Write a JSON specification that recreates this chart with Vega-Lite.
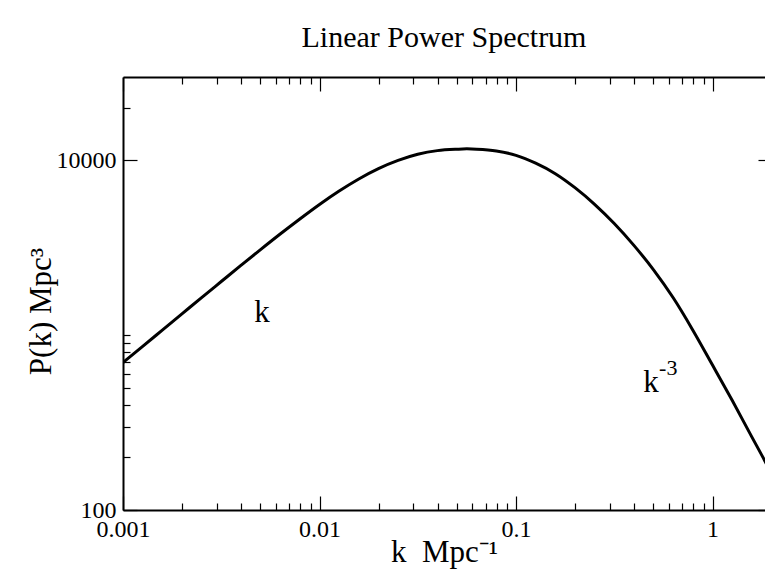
{
  "$schema": "https://vega.github.io/schema/vega-lite/v6.json",
  "width": 642,
  "height": 433,
  "autosize": {"type": "none"},
  "padding": {"left": 123, "top": 77, "right": 0, "bottom": 76},
  "background": "white",
  "config": {
    "view": {"stroke": null},
    "font": "Liberation Serif",
    "axis": {
      "grid": false,
      "domainColor": "black",
      "domainWidth": 2,
      "tickColor": "black",
      "tickWidth": 1.2,
      "labelFont": "Liberation Serif",
      "labelFontSize": 24,
      "labelColor": "black",
      "titleFont": "Liberation Serif",
      "titleFontWeight": "normal",
      "titleColor": "black",
      "minExtent": 0
    },
    "title": {"font": "Liberation Serif", "fontWeight": "normal", "color": "black"}
  },
  "title": {
    "text": "Linear Power Spectrum",
    "fontSize": 30,
    "anchor": "middle",
    "frame": "group",
    "baseline": "alphabetic",
    "offset": -1
  },
  "resolve": {
    "scale": {"x": "shared", "y": "shared"},
    "axis": {"x": "independent", "y": "independent"}
  },
  "layer": [
    {
      "data": {
        "values": [
          {"k": 0.001, "P": 697},
          {"k": 0.001259, "P": 863},
          {"k": 0.001585, "P": 1069},
          {"k": 0.001995, "P": 1324},
          {"k": 0.002512, "P": 1641},
          {"k": 0.003162, "P": 2028},
          {"k": 0.003981, "P": 2506},
          {"k": 0.005012, "P": 3090},
          {"k": 0.00631, "P": 3793},
          {"k": 0.007943, "P": 4624},
          {"k": 0.01, "P": 5598},
          {"k": 0.01259, "P": 6683},
          {"k": 0.01585, "P": 7834},
          {"k": 0.01995, "P": 8974},
          {"k": 0.02512, "P": 10000},
          {"k": 0.03162, "P": 10839},
          {"k": 0.03981, "P": 11376},
          {"k": 0.05012, "P": 11588},
          {"k": 0.05623, "P": 11641},
          {"k": 0.0631, "P": 11588},
          {"k": 0.07943, "P": 11324},
          {"k": 0.1, "P": 10691},
          {"k": 0.1259, "P": 9638},
          {"k": 0.1585, "P": 8395},
          {"k": 0.1995, "P": 6982},
          {"k": 0.2512, "P": 5610},
          {"k": 0.3162, "P": 4355},
          {"k": 0.3981, "P": 3266},
          {"k": 0.5012, "P": 2366},
          {"k": 0.631, "P": 1637},
          {"k": 0.7943, "P": 1069},
          {"k": 1.0, "P": 675},
          {"k": 1.259, "P": 424},
          {"k": 1.585, "P": 262},
          {"k": 1.85, "P": 190},
          {"k": 2.0, "P": 160}
        ]
      },
      "mark": {"type": "line", "color": "black", "strokeWidth": 3, "clip": true, "interpolate": "monotone"},
      "encoding": {
        "x": {
          "field": "k", "type": "quantitative",
          "scale": {"type": "log", "domain": [0.001, 1.85], "nice": false},
          "axis": {
            "orient": "bottom",
            "values": [0.001, 0.01, 0.1, 1],
            "format": "~g",
            "tickSize": -14,
            "labelPadding": 21,
            "labelBaseline": "top",
            "labelFlush": false,
            "labelOverlap": false,
            "title": "k\u00a0\u00a0Mpc\u207b\u00b9",
            "titleFontSize": 31,
            "titleBaseline": "alphabetic",
            "titleY": 51
          }
        },
        "y": {
          "field": "P", "type": "quantitative",
          "scale": {"type": "log", "domain": [100, 30000], "nice": false},
          "axis": {
            "orient": "left",
            "values": [100, 10000],
            "format": "~g",
            "tickSize": -14,
            "labelPadding": 21,
            "labelBaseline": "middle",
            "labelFlush": false,
            "labelOverlap": false,
            "title": "P(k) Mpc\u00b3",
            "titleFontSize": 31,
            "titleBaseline": "alphabetic",
            "titleX": -73,
            "titleY": 234
          }
        }
      }
    },
    {
      "data": {"values": [{"k": 0.0051, "P": 1194, "label": "k"}]},
      "mark": {"type": "text", "font": "Liberation Serif", "fontSize": 31, "color": "black", "align": "center", "baseline": "alphabetic"},
      "encoding": {
        "x": {
          "field": "k", "type": "quantitative",
          "scale": {"type": "log", "domain": [0.001, 1.85], "nice": false},
          "axis": {
            "orient": "bottom",
            "values": [0.002, 0.003, 0.004, 0.005, 0.006, 0.007, 0.008, 0.009, 0.02, 0.03, 0.04, 0.05, 0.06, 0.07, 0.08, 0.09, 0.2, 0.3, 0.4, 0.5, 0.6, 0.7, 0.8, 0.9],
            "tickSize": -7,
            "labels": false,
            "domain": false,
            "title": null
          }
        },
        "y": {
          "field": "P", "type": "quantitative",
          "scale": {"type": "log", "domain": [100, 30000], "nice": false},
          "axis": {
            "orient": "left",
            "values": [200, 300, 400, 500, 600, 700, 800, 900, 1000, 20000],
            "tickSize": -7,
            "labels": false,
            "domain": false,
            "title": null
          }
        },
        "text": {"field": "label"}
      }
    },
    {
      "data": {"values": [{"k": 0.486, "P": 475, "label": "k"}]},
      "mark": {"type": "text", "font": "Liberation Serif", "fontSize": 31, "color": "black", "align": "center", "baseline": "alphabetic"},
      "encoding": {
        "x": {
          "field": "k", "type": "quantitative",
          "scale": {"type": "log", "domain": [0.001, 1.85], "nice": false},
          "axis": {
            "orient": "top",
            "values": [0.001, 0.01, 0.1, 1],
            "tickSize": -14,
            "labels": false,
            "domain": true,
            "title": null
          }
        },
        "y": {
          "field": "P", "type": "quantitative",
          "scale": {"type": "log", "domain": [100, 30000], "nice": false},
          "axis": {
            "orient": "right",
            "values": [100, 10000],
            "tickSize": -7,
            "labels": false,
            "domain": false,
            "title": null
          }
        },
        "text": {"field": "label"}
      }
    },
    {
      "data": {"values": [{"k": 0.535, "P": 591, "label": "-3"}]},
      "mark": {"type": "text", "font": "Liberation Serif", "fontSize": 22, "color": "black", "align": "left", "baseline": "alphabetic"},
      "encoding": {
        "x": {
          "field": "k", "type": "quantitative",
          "scale": {"type": "log", "domain": [0.001, 1.85], "nice": false},
          "axis": {
            "orient": "top",
            "values": [0.002, 0.003, 0.004, 0.005, 0.006, 0.007, 0.008, 0.009, 0.02, 0.03, 0.04, 0.05, 0.06, 0.07, 0.08, 0.09, 0.2, 0.3, 0.4, 0.5, 0.6, 0.7, 0.8, 0.9],
            "tickSize": -7,
            "labels": false,
            "domain": false,
            "title": null
          }
        },
        "y": {
          "field": "P", "type": "quantitative",
          "scale": {"type": "log", "domain": [100, 30000], "nice": false},
          "axis": null
        },
        "text": {"field": "label"}
      }
    }
  ]
}
